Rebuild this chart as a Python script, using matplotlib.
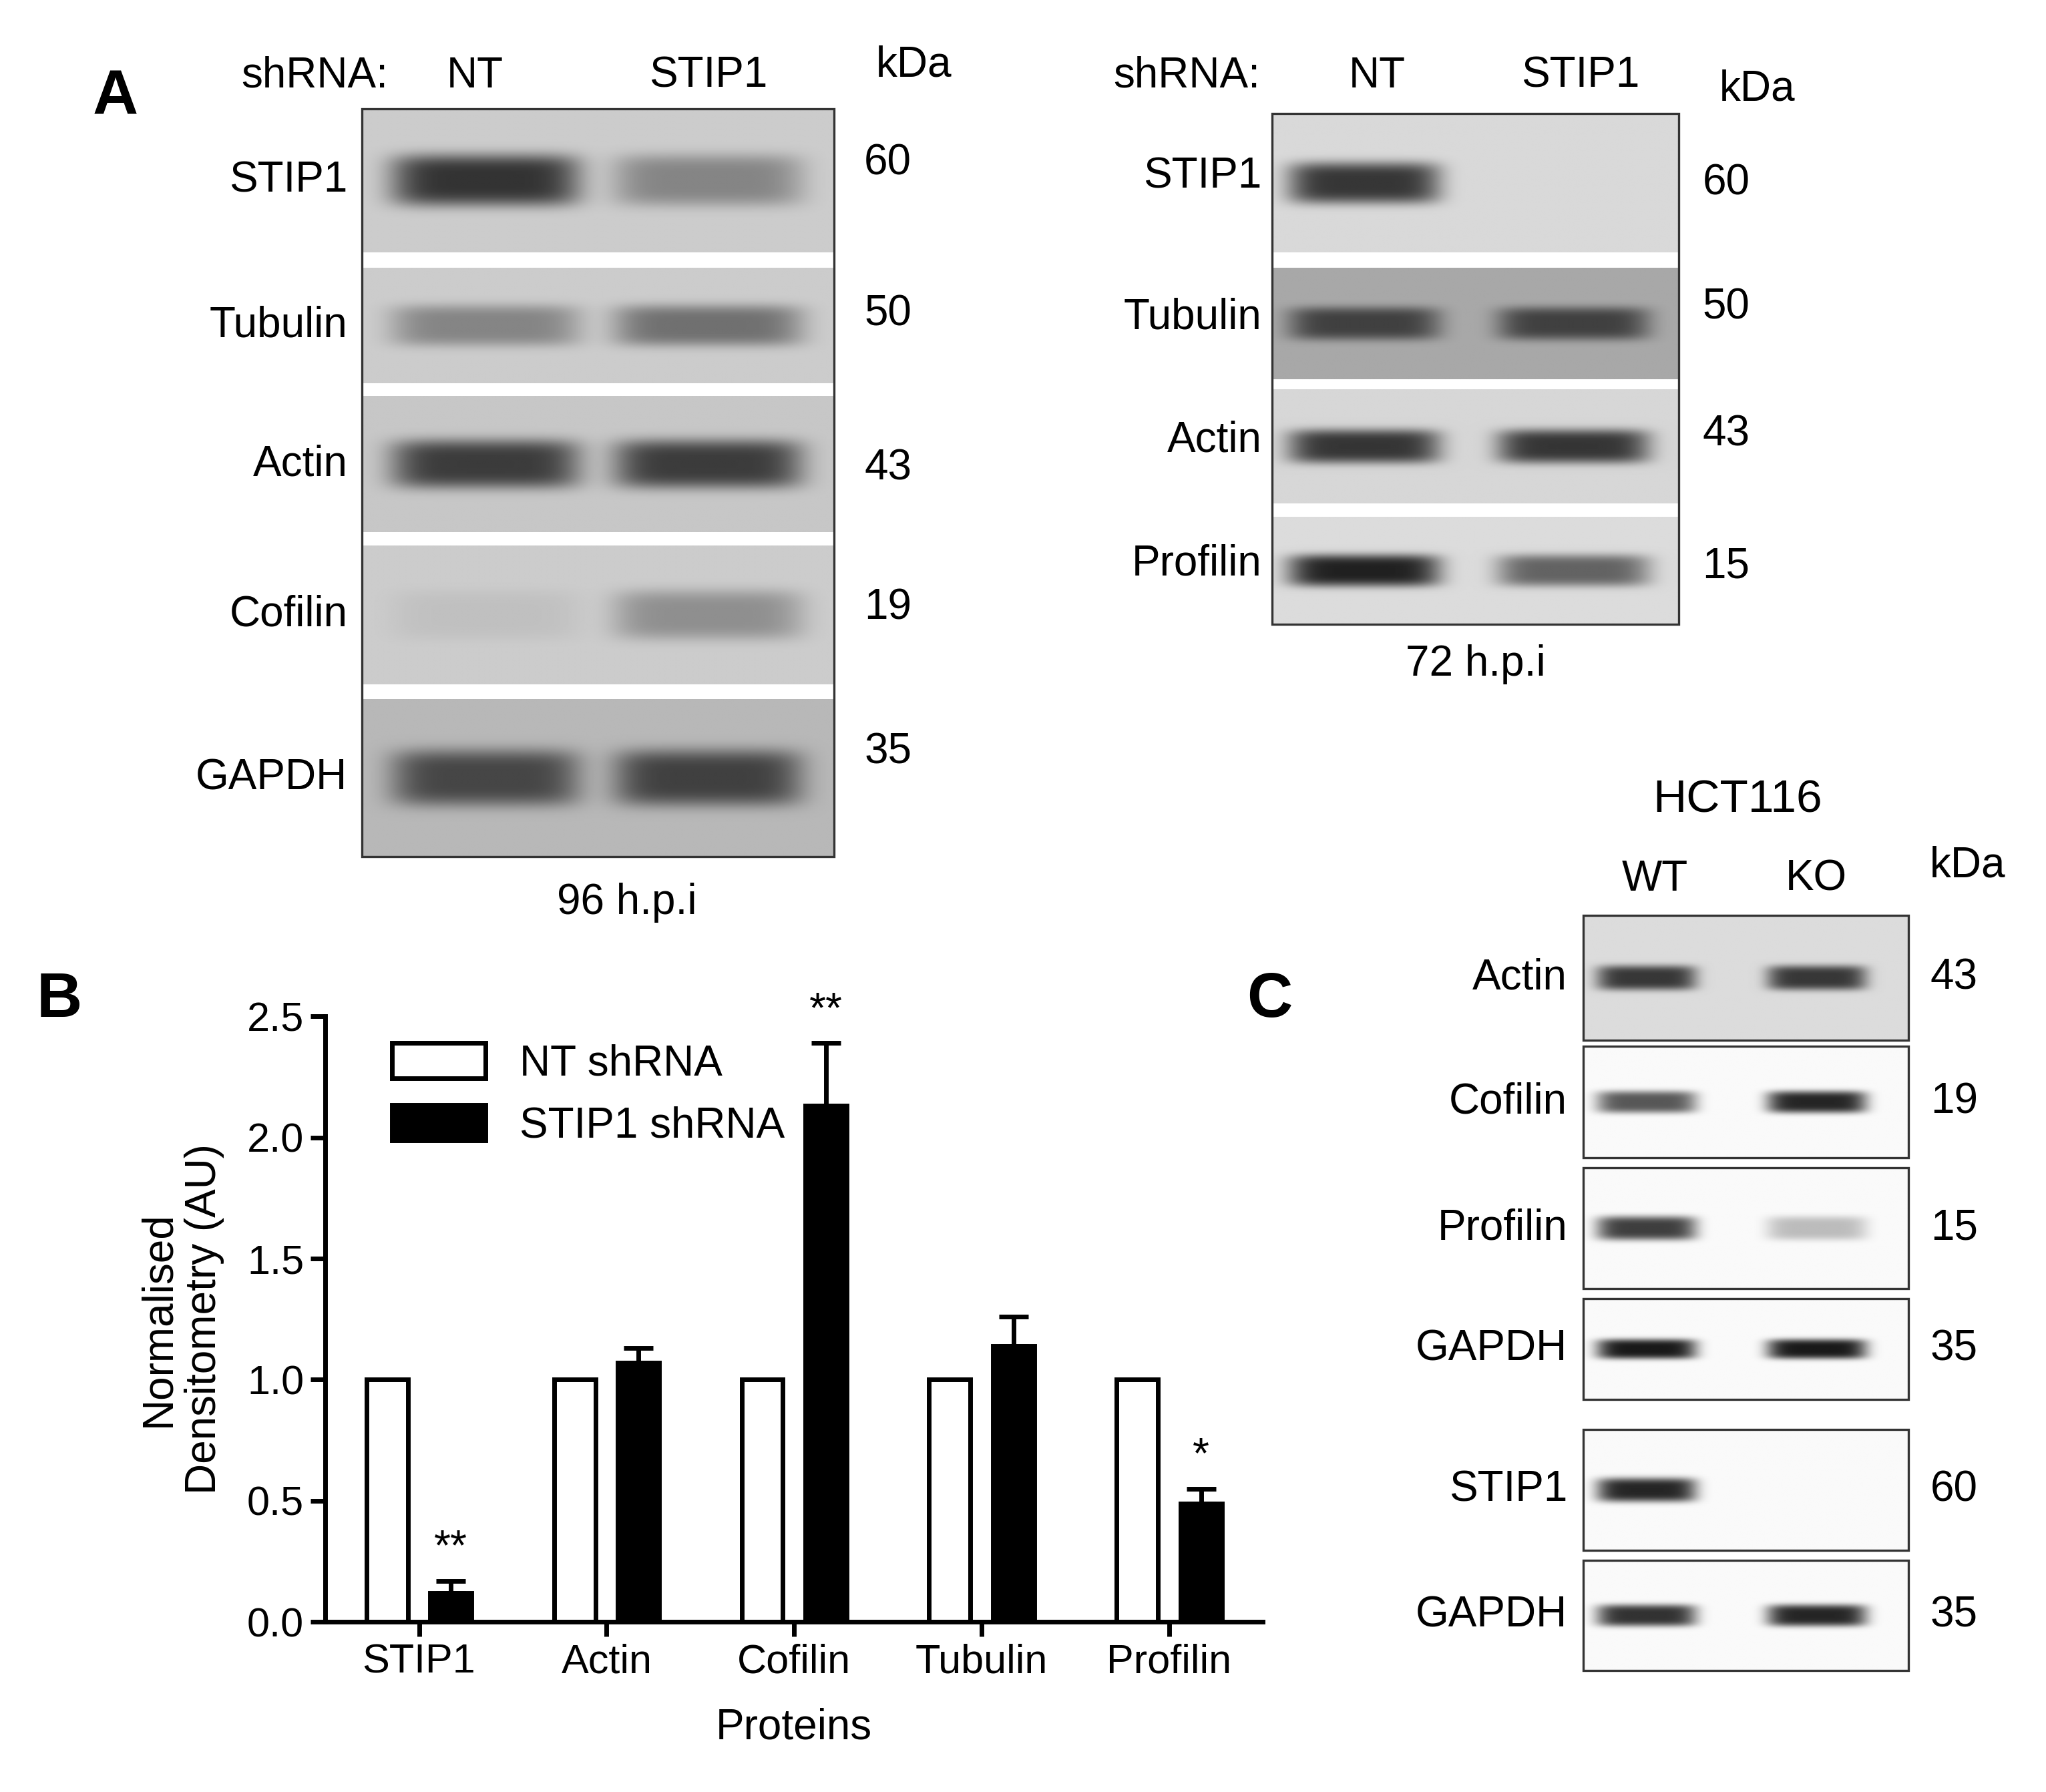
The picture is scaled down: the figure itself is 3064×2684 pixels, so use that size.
import numpy as np
import matplotlib.pyplot as plt
from matplotlib.patches import Rectangle

plt.rcParams['font.family'] = ['Liberation Sans', 'DejaVu Sans']

# ── Panel B data ──────────────────────────────────────────────────────────
proteins = ["STIP1", "Actin", "Cofilin", "Tubulin", "Profilin"]
nt_vals = [1.0, 1.0, 1.0, 1.0, 1.0]
kd_vals = [0.12, 1.07, 2.13, 1.14, 0.49]
kd_err = [0.05, 0.06, 0.26, 0.12, 0.06]
stars = ["**", "", "**", "", "*"]

# ── Blot data: (label, kDa, background, [NT/WT darkness, KD/KO darkness]) ──
blot_a1 = [("STIP1", "60", 0.80, [0.75, 0.35]),
           ("Tubulin", "50", 0.80, [0.35, 0.45]),
           ("Actin", "43", 0.78, [0.70, 0.70]),
           ("Cofilin", "19", 0.80, [0.06, 0.30]),
           ("GAPDH", "35", 0.72, [0.62, 0.65])]
blot_a2 = [("STIP1", "60", 0.85, [0.75, 0.0]),
           ("Tubulin", "50", 0.66, [0.62, 0.62]),
           ("Actin", "43", 0.84, [0.75, 0.75]),
           ("Profilin", "15", 0.86, [0.85, 0.55])]
blot_c = [("Actin", "43", 0.86, [0.75, 0.75]),
          ("Cofilin", "19", 0.98, [0.65, 0.85]),
          ("Profilin", "15", 0.98, [0.75, 0.25]),
          ("GAPDH", "35", 0.98, [0.9, 0.9]),
          ("STIP1", "60", 0.98, [0.85, 0.0]),
          ("GAPDH", "35", 0.98, [0.8, 0.85])]

W, H = 1560, 1370
fig = plt.figure(figsize=(15.32, 13.42), dpi=200)
ov = fig.add_axes([0, 0, 1, 1])
ov.set_xlim(0, W)
ov.set_ylim(H, 0)
ov.axis("off")

FS = 23


def strip(x0, x1, y0, y1, bg, lanes, dark, hw, thick, border=True):
    nx, ny = 300, 120
    xs = np.linspace(x0, x1, nx)
    ys = np.linspace(0, 1, ny)
    X, Y = np.meshgrid(xs, ys)
    img = np.full(X.shape, bg)
    for xc, d in zip(lanes, dark):
        if d <= 0:
            continue
        prof = np.exp(-((X - xc) / hw) ** 6) * np.exp(-((Y - 0.5) / thick) ** 4)
        img = img - d * bg * prof
    ov.imshow(img, cmap="gray", vmin=0, vmax=1, extent=(x0, x1, y1, y0),
              aspect="auto", interpolation="bilinear", zorder=1)
    if border:
        ov.add_patch(Rectangle((x0, y0), x1 - x0, y1 - y0, fill=False,
                               lw=1.2, ec="#333333", zorder=2))


# Panel A left blot
ov.text(88, 75, "A", fontsize=34, fontweight="bold", ha="center", va="center")
ov.text(240, 58, "shRNA:", fontsize=FS, ha="center", va="center")
ov.text(362, 58, "NT", fontsize=FS, ha="center", va="center")
ov.text(540, 58, "STIP1", fontsize=FS, ha="center", va="center")
ov.text(697, 50, "kDa", fontsize=FS, ha="center", va="center")
rows = [(83, 193), (205, 293), (303, 407), (417, 523), (535, 655)]
kda_y = [125, 240, 358, 465, 575]
for (lab, kda, bg, dark), (y0, y1), ky in zip(blot_a1, rows, kda_y):
    strip(276, 636, y0, y1, bg, [370, 540], dark, 72, 0.18, border=False)
    ov.text(265, (y0 + y1) / 2, lab, fontsize=FS, ha="right", va="center")
    ov.text(677, ky, kda, fontsize=FS, ha="center", va="center")
ov.add_patch(Rectangle((276, 83), 360, 572, fill=False, lw=1.2, ec="#333333", zorder=2))
ov.text(478, 690, "96 h.p.i", fontsize=FS, ha="center", va="center")

# Panel A right blot
ov.text(905, 58, "shRNA:", fontsize=FS, ha="center", va="center")
ov.text(1050, 58, "NT", fontsize=FS, ha="center", va="center")
ov.text(1205, 58, "STIP1", fontsize=FS, ha="center", va="center")
ov.text(1340, 68, "kDa", fontsize=FS, ha="center", va="center")
rows = [(87, 193), (205, 290), (298, 385), (395, 477)]
kda_y = [140, 235, 332, 433]
for (lab, kda, bg, dark), (y0, y1), ky in zip(blot_a2, rows, kda_y):
    strip(970, 1280, y0, y1, bg, [1040, 1200], dark, 58, 0.15, border=False)
    ov.text(962, (y0 + y1) / 2 - 5, lab, fontsize=FS, ha="right", va="center")
    ov.text(1316, ky, kda, fontsize=FS, ha="center", va="center")
ov.add_patch(Rectangle((970, 87), 310, 390, fill=False, lw=1.2, ec="#333333", zorder=2))
ov.text(1125, 508, "72 h.p.i", fontsize=FS, ha="center", va="center")

# Panel C
ov.text(968, 765, "C", fontsize=34, fontweight="bold", ha="center", va="center")
ov.text(1325, 612, "HCT116", fontsize=FS + 2, ha="center", va="center")
ov.text(1262, 672, "WT", fontsize=FS, ha="center", va="center")
ov.text(1385, 672, "KO", fontsize=FS, ha="center", va="center")
ov.text(1500, 662, "kDa", fontsize=FS, ha="center", va="center")
rows = [(700, 795), (800, 885), (893, 985), (993, 1070), (1093, 1185), (1193, 1277)]
for (lab, kda, bg, dark), (y0, y1) in zip(blot_c, rows):
    strip(1207, 1455, y0, y1, bg, [1255, 1385], dark, 38, 0.1)
    ov.text(1195, (y0 + y1) / 2, lab, fontsize=FS, ha="right", va="center")
    ov.text(1490, (y0 + y1) / 2, kda, fontsize=FS, ha="center", va="center")

# Panel B bar chart
ov.text(45, 765, "B", fontsize=34, fontweight="bold", ha="center", va="center")
ax = fig.add_axes([248 / W, 1 - 1240 / H, 715 / W, (1240 - 777) / H])
x = np.arange(len(proteins))
bw, off = 0.22, 0.17
ax.bar(x - off, nt_vals, bw, color="white", edgecolor="black", lw=2.5, label="NT shRNA")
ax.bar(x + off, kd_vals, bw, color="black", edgecolor="black", lw=2.5, label="STIP1 shRNA",
       yerr=[np.zeros(len(kd_err)), kd_err], error_kw=dict(ecolor="black", elinewidth=2.5, capsize=8, capthick=2.5))
for xi, v, e, s in zip(x, kd_vals, kd_err, stars):
    if s:
        ax.text(xi + off, v + e + 0.05, s, fontsize=FS, ha="center", va="bottom")
ax.set_xlim(-0.5, 4.5)
ax.set_ylim(0, 2.5)
ax.set_yticks([0, 0.5, 1.0, 1.5, 2.0, 2.5])
ax.set_yticklabels(["0.0", "0.5", "1.0", "1.5", "2.0", "2.5"])
ax.set_xticks(x)
ax.set_xticklabels(proteins)
ax.tick_params(labelsize=FS - 1, width=2.5, length=8)
for sp in ["top", "right"]:
    ax.spines[sp].set_visible(False)
for sp in ["left", "bottom"]:
    ax.spines[sp].set_linewidth(2.5)
ax.set_ylabel("Normalised\nDensitometry (AU)", fontsize=FS, labelpad=12)
ax.set_xlabel("Proteins", fontsize=FS, labelpad=14)
ax.legend(loc="upper left", bbox_to_anchor=(0.03, 1.02), frameon=False, fontsize=FS,
          handlelength=2.2, handleheight=0.9, labelspacing=0.5)

fig.savefig("out.png", dpi=200)
